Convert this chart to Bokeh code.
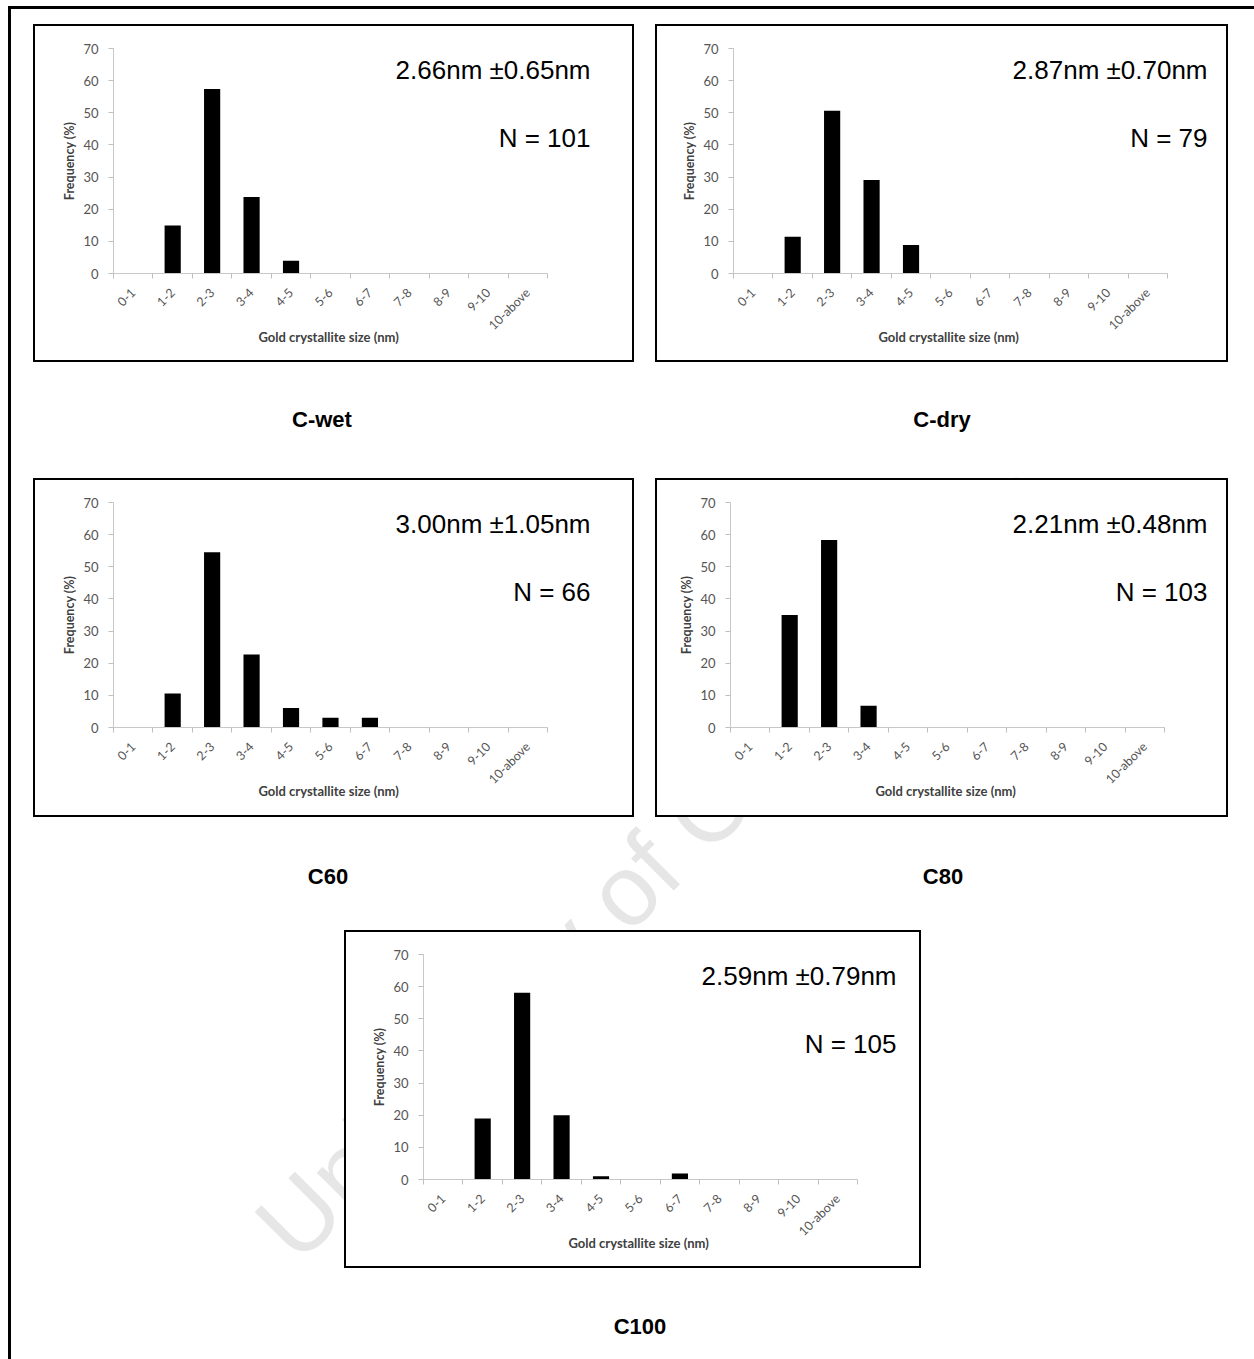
import math
from bokeh.plotting import figure
from bokeh.models import Range1d, FixedTicker, Label, Div, Spacer, Title
from bokeh.layouts import row, column
from bokeh.embed import file_html
from bokeh.resources import INLINE

# ---------------- data ----------------
size_bins = ["0-1", "1-2", "2-3", "3-4", "4-5", "5-6", "6-7", "7-8", "8-9", "9-10", "10-above"]
y_ticks = [0, 10, 20, 30, 40, 50, 60, 70]

cwet_freq = [0, 14.9, 57.4, 23.8, 4.0, 0, 0, 0, 0, 0, 0]
cdry_freq = [0, 11.4, 50.6, 29.1, 8.9, 0, 0, 0, 0, 0, 0]
c60_freq = [0, 10.6, 54.5, 22.7, 6.1, 3.0, 3.0, 0, 0, 0, 0]
c80_freq = [0, 35.0, 58.3, 6.8, 0, 0, 0, 0, 0, 0, 0]
c100_freq = [0, 19.0, 58.1, 20.0, 1.0, 0, 1.9, 0, 0, 0, 0]

sample_names = ["C-wet", "C-dry", "C60", "C80", "C100"]
mean_sd = ["2.66nm \u00b10.65nm", "2.87nm \u00b10.70nm", "3.00nm \u00b11.05nm",
           "2.21nm \u00b10.48nm", "2.59nm \u00b10.79nm"]
counts = ["N = 101", "N = 79", "N = 66", "N = 103", "N = 105"]

x_title = "Gold crystallite size (nm)"
y_title = "Frequency (%)"
watermark = "University of Cape Town"

SMALL_FONT = "Lato"
BIG_FONT = "Liberation Sans"
T = 2          # box border thickness
PX_PER_BIN = 39.45
X_TITLE_HALF_W = 72   # approx. half width of the x title text at 13px bold


def line_div(w, h):
    return Div(text="", width=w, height=h, margin=0,
               styles={"background-color": "#000000"})


def chart(freq, ann1, ann2, w, h, frame_left, ann_right):
    fw, fh = w - 2 * T, h - 2 * T
    frame_right = ann_right + 6
    n = len(size_bins)
    x_end = 0.5 + (frame_right - frame_left) / PX_PER_BIN
    ann_x = 0.5 + (ann_right - frame_left) / PX_PER_BIN
    p = figure(width=fw, height=fh, output_backend="svg", toolbar_location=None,
               x_range=Range1d(0.5, x_end), y_range=Range1d(0, 70),
               min_border_left=frame_left - T, min_border_right=w - frame_right - T,
               min_border_top=24 - T, min_border_bottom=h - 24 - 225 - T, margin=0,
               styles={"background-color": "#ffffff"})
    p.outline_line_color = None
    p.xgrid.grid_line_color = None
    p.ygrid.grid_line_color = None
    p.background_fill_color = "white"
    p.border_fill_color = "white"

    centers = list(range(1, n + 1))
    p.vbar(x=centers, top=freq, width=0.41, fill_color="#000000", line_color=None)

    xa = p.xaxis[0]
    xa.bounds = (0.5, n + 0.5)
    xa.ticker = FixedTicker(ticks=centers, minor_ticks=[c - 0.5 for c in centers] + [n + 0.5])
    xa.major_label_overrides = {c: lab for c, lab in zip(centers, size_bins)}
    xa.major_tick_line_color = None
    xa.major_tick_out = 0
    xa.major_tick_in = 0
    xa.minor_tick_line_color = "#bfbfbf"
    xa.minor_tick_out = 5
    xa.minor_tick_in = 0
    xa.axis_line_color = "#c8c8c8"
    xa.major_label_orientation = math.pi / 4
    xa.major_label_text_font = SMALL_FONT
    xa.major_label_text_font_size = "12.5px"
    xa.major_label_text_color = "#555555"
    xa.major_label_standoff = 12

    # x-axis title centred under the bounded axis (not under the wider frame)
    axis_center_px = (n / 2) * PX_PER_BIN
    p.add_layout(Title(text=x_title, align="left", offset=axis_center_px - X_TITLE_HALF_W,
                       vertical_align="top", standoff=-24, text_font=SMALL_FONT,
                       text_font_style="bold", text_font_size="13px", text_color="#404040"),
                 "below")

    ya = p.yaxis[0]
    ya.ticker = FixedTicker(ticks=y_ticks)
    ya.axis_line_color = "#c8c8c8"
    ya.major_tick_line_color = "#bfbfbf"
    ya.major_tick_out = 5
    ya.major_tick_in = 0
    ya.minor_tick_line_color = None
    ya.major_label_text_font = SMALL_FONT
    ya.major_label_text_font_size = "13px"
    ya.major_label_text_color = "#555555"
    ya.major_label_standoff = 10
    ya.axis_label = y_title
    ya.axis_label_text_font = SMALL_FONT
    ya.axis_label_text_font_style = "bold"
    ya.axis_label_text_font_size = "12.5px"
    ya.axis_label_text_color = "#404040"
    ya.axis_label_standoff = 3

    p.add_layout(Label(x=ann_x, y=63.2, text=ann1, text_align="right", text_baseline="middle",
                       text_font=BIG_FONT, text_font_size="26px", text_color="#000000"))
    p.add_layout(Label(x=ann_x, y=42.3, text=ann2, text_align="right", text_baseline="middle",
                       text_font=BIG_FONT, text_font_size="26px", text_color="#000000"))

    inner = column(line_div(fw, T), p, line_div(fw, T), spacing=0, margin=0,
                   styles={"background-color": "#ffffff"})
    return row(line_div(T, h), inner, line_div(T, h), spacing=0, margin=0,
               styles={"background-color": "#ffffff"})


def caption(text, w, h, center_y):
    return Div(text=text, width=w, height=h, margin=0,
               styles={"font-family": "'Liberation Sans', Arial, sans-serif",
                       "font-weight": "bold", "font-size": "22px", "color": "#000000",
                       "text-align": "center", "line-height": f"{2 * center_y}px",
                       "overflow": "visible"})


f_cwet = chart(cwet_freq, mean_sd[0], counts[0], 601, 338, 80, 557)
f_cdry = chart(cdry_freq, mean_sd[1], counts[1], 573, 338, 78, 552)
f_c60 = chart(c60_freq, mean_sd[2], counts[2], 601, 339, 80, 557)
f_c80 = chart(c80_freq, mean_sd[3], counts[3], 573, 339, 75, 552)
f_c100 = chart(c100_freq, mean_sd[4], counts[4], 577, 338, 79, 552)

content = column(
    Spacer(width=10, height=15, margin=0),
    row(Spacer(width=22, height=338, margin=0), f_cwet, Spacer(width=21, height=338, margin=0), f_cdry,
        spacing=0, margin=0),
    row(caption(sample_names[0], 622, 116, 58), caption(sample_names[1], 618, 116, 58), spacing=0, margin=0),
    row(Spacer(width=22, height=339, margin=0), f_c60, Spacer(width=21, height=339, margin=0), f_c80,
        spacing=0, margin=0),
    row(caption(sample_names[2], 634, 113, 60), caption(sample_names[3], 596, 113, 60), spacing=0, margin=0),
    row(Spacer(width=333, height=338, margin=0), f_c100, spacing=0, margin=0),
    row(Spacer(width=529, height=91, margin=0), caption(sample_names[4], 200, 91, 59), spacing=0, margin=0),
    spacing=0, margin=0,
)

# faint diagonal watermark behind the chart boxes
wm_html = ('<div style="position:absolute; left:238px; top:1206px; transform-origin:0 0; '
           'transform:rotate(-45deg); font-family:\'Liberation Sans\', Arial, sans-serif; '
           'font-size:100px; line-height:1; color:#e6e6e6; white-space:nowrap;">'
           + watermark + '</div>')
wm = Div(text=wm_html, width=1254, height=1359, margin=0,
         styles={"position": "absolute", "left": "0px", "top": "0px", "z-index": "-1",
                 "overflow": "visible"})

page = column(
    wm,
    Spacer(width=10, height=6, margin=0),
    row(Spacer(width=8, height=3, margin=0), line_div(1246, 3), spacing=0, margin=0),
    row(Spacer(width=8, height=1350, margin=0), line_div(3, 1350), content, spacing=0, margin=0),
    spacing=0, margin=0,
)

open("out.html", "w").write(file_html(page, INLINE, title="Gold crystallite size distributions"))
